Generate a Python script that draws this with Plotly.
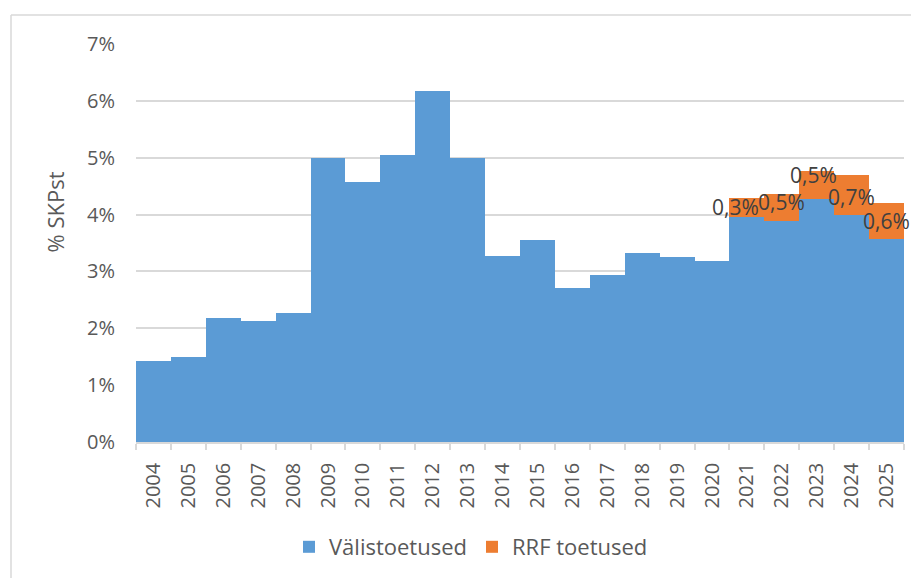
import plotly.graph_objects as go

years = [str(y) for y in range(2004, 2026)]
valistoetused = [1.43, 1.50, 2.18, 2.13, 2.27, 5.00, 4.58, 5.05, 6.18, 5.00, 3.27, 3.55,
                 2.70, 2.94, 3.32, 3.26, 3.18, 3.96, 3.89, 4.27, 3.99, 3.57]
rrf_toetused = [None] * 17 + [0.34, 0.48, 0.50, 0.70, 0.64]
rrf_labels = [""] * 17 + ["0,3%", "0,5%", "0,5%", "0,7%", "0,6%"]
label_xshift = [0] * 17 + [-11, 0, -3, 0, 0]
label_yshift = [0] * 17 + [0, 5, 10, -2, 0]
y_title = "% SKPst"

BLUE = "#5B9BD5"
ORANGE = "#ED7D31"
FONT = "Open Sans"
GRAY = "#595959"

L, R, T, B = 128, 23, 36, 144
PW = 919 - L - R
PH = 578 - T - B

fig = go.Figure()
fig.add_trace(go.Bar(x=years, y=[v / 100 for v in valistoetused], name="Välistoetused",
                     marker=dict(color=BLUE, line=dict(width=0))))
fig.add_trace(go.Bar(x=years, y=[(v / 100 if v is not None else None) for v in rrf_toetused],
                     name="RRF toetused", marker=dict(color=ORANGE, line=dict(width=0))))

for i, lab in enumerate(rrf_labels):
    if lab:
        fig.add_annotation(x=i, y=(valistoetused[i] + rrf_toetused[i] / 2) / 100,
                           text=lab, showarrow=False, xshift=label_xshift[i],
                           yshift=label_yshift[i],
                           font=dict(family=FONT, size=21, color="#404040"))

# y-axis title (placed as rotated text, offset upward as in the original)
fig.add_annotation(xref="paper", yref="paper", x=(46 - L) / PW, y=(434 - 204.5) / PH,
                   text=y_title, textangle=-90, showarrow=False,
                   xanchor="center", yanchor="middle",
                   font=dict(family=FONT, size=22, color=GRAY))

fig.update_layout(
    barmode="stack", bargap=0,
    width=919, height=578,
    margin=dict(l=L, r=R, t=T, b=B),
    paper_bgcolor="white", plot_bgcolor="white",
    font=dict(family=FONT, size=20, color=GRAY),
    showlegend=True,
    legend=dict(orientation="h", x=(463 - L) / PW, xanchor="center",
                y=(434 - 539) / PH, yanchor="middle",
                font=dict(family=FONT, size=22, color=GRAY), itemwidth=30,
                traceorder="normal"),
    xaxis=dict(type="category", range=[-0.5, len(years) - 0.5], showgrid=False,
               showline=True, linecolor="#d9d9d9",
               linewidth=1.5, ticks="outside", tickson="boundaries", ticklen=6,
               tickcolor="#d9d9d9", tickwidth=1.5, tickangle=-90,
               tickfont=dict(family=FONT, size=20, color=GRAY), ticklabelstandoff=11),
    yaxis=dict(range=[0, 0.07], dtick=0.01, tickformat=".0%", showgrid=True,
               gridcolor="#d9d9d9", gridwidth=1.5, zeroline=False, showline=False,
               tickfont=dict(family=FONT, size=20, color=GRAY), ticklabelstandoff=20),
    shapes=[
        dict(type="line", xref="paper", yref="paper", x0=(3 - L) / PW, x1=1.05,
             y0=1 + (T - 7) / PH, y1=1 + (T - 7) / PH,
             line=dict(color="#d9d9d9", width=1.5)),
        dict(type="line", xref="paper", yref="paper", x0=(3 - L) / PW, x1=(3 - L) / PW,
             y0=1 + (T - 7) / PH, y1=-0.5,
             line=dict(color="#d9d9d9", width=1.5)),
    ],
)

fig.write_html("out.html")
